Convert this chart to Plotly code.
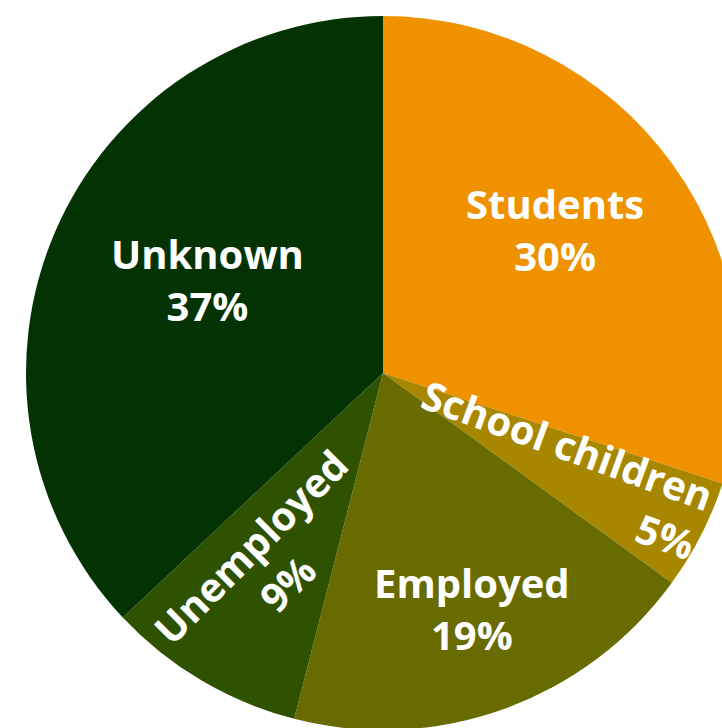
import math
import plotly.graph_objects as go

categories = ["Students", "School children", "Employed", "Unemployed", "Unknown"]
values = [30, 5, 19, 9, 37]
colors = ["#F09100", "#A88700", "#686B00", "#2F5200", "#033203"]

# label styling: radius fraction, angle offset from slice middle (deg), text angle, alignment
label_r = [0.627, 0.562, 0.704, 0.627, 0.557]
label_dtheta = [-3.9, 1.6, -0.9, 0.3, 4.5]
label_angle = [0, 20, 0, -45, 0]
label_align = ["center", "right", "center", "center", "center"]

W, H = 800, 800
cx, cy, R = 383, 373, 357
domain = dict(x=[(cx - R) / W, (cx + R) / W], y=[1 - (cy + R) / H, 1 - (cy - R) / H])

fig = go.Figure()
fig.add_trace(go.Pie(
    labels=categories, values=values, sort=False, direction="clockwise", rotation=0,
    marker=dict(colors=colors, line=dict(width=0)),
    textinfo="none", domain=domain, showlegend=False, hoverinfo="label+value",
))

total = sum(values)
cum = 0
for i, (c, v) in enumerate(zip(categories, values)):
    mid = (cum + v / 2) / total * 360 + label_dtheta[i]
    cum += v
    r = label_r[i] * R
    px = cx + r * math.sin(math.radians(mid))
    py = cy - r * math.cos(math.radians(mid))
    fig.add_annotation(
        x=px / W, y=1 - py / H, xref="paper", yref="paper",
        text=f"{c}<br>{v}%", showarrow=False, textangle=label_angle[i],
        align=label_align[i], xanchor="center", yanchor="middle",
        font=dict(family="Open Sans", size=40, color="white", weight="bold"),
    )

fig.update_layout(
    width=W, height=H, margin=dict(l=0, r=0, t=0, b=0),
    paper_bgcolor="white", plot_bgcolor="white",
)
fig.write_html("out.html", post_script="document.body.style.margin='0';document.body.style.overflow='hidden';")
